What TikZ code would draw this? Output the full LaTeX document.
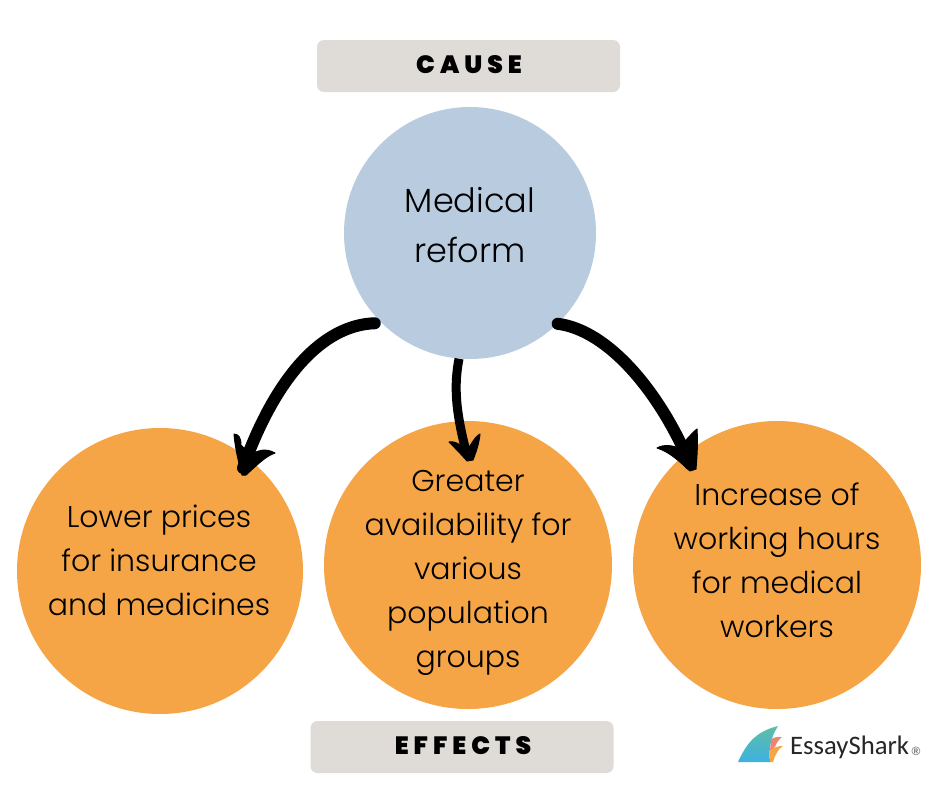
\documentclass[tikz,border=0pt]{standalone}
\usepackage{fontspec}
\setmainfont{Poppins Light}
\newfontfamily\heavy[LetterSpace=20]{Poppins Black}
\newfontfamily\logofont{Carlito}
\newfontfamily\regfont{Liberation Sans}
\definecolor{capbox}{HTML}{DFDBD7}
\definecolor{cblue}{HTML}{B9CBDF}
\definecolor{corange}{HTML}{F5A546}
\definecolor{finteal}{HTML}{5CBFA6}
\definecolor{finblue}{HTML}{3FB0E0}
\definecolor{flamered}{HTML}{EE8570}
\usetikzlibrary{calc}
\tikzset{
  banner/.style={fill=capbox,rounded corners=7pt,minimum width=303pt,minimum height=52pt,inner sep=0pt},
  bannertext/.style={inner sep=0pt,font=\heavy\fontsize{25}{25}\selectfont},
  causecircle/.style={circle,fill=cblue,minimum size=252pt,inner sep=0pt},
  effectcircle/.style={circle,fill=corange,minimum size=288pt,inner sep=0pt},
  causetext/.style={inner sep=0pt,align=center,font=\fontsize{33.5}{50}\selectfont},
  effecttext/.style={inner sep=0pt,align=center,font=\fontsize{30}{44}\selectfont},
  shaft/.style={line width=12pt,line cap=round,black},
  headfill/.style={fill=black,draw=black,line width=1pt,line join=round},
}
\begin{document}
\begin{tikzpicture}[x=1pt,y=-1pt]
\useasboundingbox (0,0) rectangle (940,788);
\fill[white] (0,0) rectangle (940,788);
\node[banner] (cause) at (468.5,66) {};
\node[bannertext] (causelabel) at (469,65) {CAUSE};
\node[banner] (effects) at (462,747) {};
\node[bannertext] (effectslabel) at (463,746) {EFFECTS};
\node[causecircle] (reform) at (470,233) {};
\node[causetext] (reformtext) at (470,225) {Medical\\reform};
\node[effectcircle,minimum size=286pt] (lower) at (160,571) {};
\node[effecttext] (lowertext) at (159,560) {Lower prices\\for insurance\\and medicines};
\node[effectcircle] (avail) at (468,565) {};
\node[effecttext] (availtext) at (468,573) {Greater\\availability for\\various\\population\\groups};
\node[effectcircle] (hours) at (777,565) {};
\node[effecttext] (hourstext) at (777,560) {Increase of\\working hours\\for medical\\workers};
\coordinate (tipL) at (243,468);
\coordinate (tipM) at (467,455);
\coordinate (tipR) at (690,464);
% left arrow
\draw[shaft] ([shift={(-6,1)}]reform.225) .. controls (322,325) and (275,378) .. (tipL);
\fill[headfill] (242,475) .. controls (238,460) and (235,447) .. (234,434)
  .. controls (238,434) and (241,437) .. (241,445) -- (251,455)
  .. controls (258,450) and (266,448) .. (275,453)
  .. controls (266,456) and (258,464) .. (246,475) -- cycle;
% middle arrow
\draw[shaft,line width=9pt,line cap=butt] (reform.265) .. controls (454,385) and (455,410) .. (tipM);
\fill[headfill] (467,461) .. controls (461,454) and (455,448) .. (449,442)
  .. controls (453,441) and (458,443) .. (461,446) -- (470,446)
  .. controls (473,441) and (476,436) .. (480,434)
  .. controls (479,444) and (476,452) .. (473,460) -- cycle;
% right arrow
\draw[shaft] (reform.314) .. controls (608,330) and (660,392) .. (tipR);
\fill[headfill] (690,471) .. controls (680,462) and (670,452) .. (657,448)
  .. controls (664,444) and (674,445) .. (682,450) -- (686,440)
  .. controls (690,436) and (693,432) .. (697,429)
  .. controls (698,444) and (697,456) .. (696,469) -- cycle;
% logo
\shade[top color=finteal,bottom color=finblue]
  (738,762) .. controls (746,745) and (754,732) .. (778,726)
  .. controls (772,735) and (768,748) .. (770,762) -- cycle;
\fill[flamered] (771,740) .. controls (773,737) and (776,737) .. (782,737)
  .. controls (778,740) and (776,744) .. (775,747) -- (770,751) -- cycle;
\fill[corange] (770,751) .. controls (774,747) and (778,746) .. (783,746)
  .. controls (778,749) and (775,755) .. (773,762) -- (770,762) -- cycle;
\node[inner sep=0pt,anchor=west,font=\logofont\fontsize{26.7}{26.7}\selectfont,text=black!85] (brand) at (790,747) {EssayShark};
\node[inner sep=0pt,font=\regfont\bfseries\fontsize{12}{12}\selectfont,text=black!55] (reg) at (916,751) {®};
\end{tikzpicture}
\end{document}
